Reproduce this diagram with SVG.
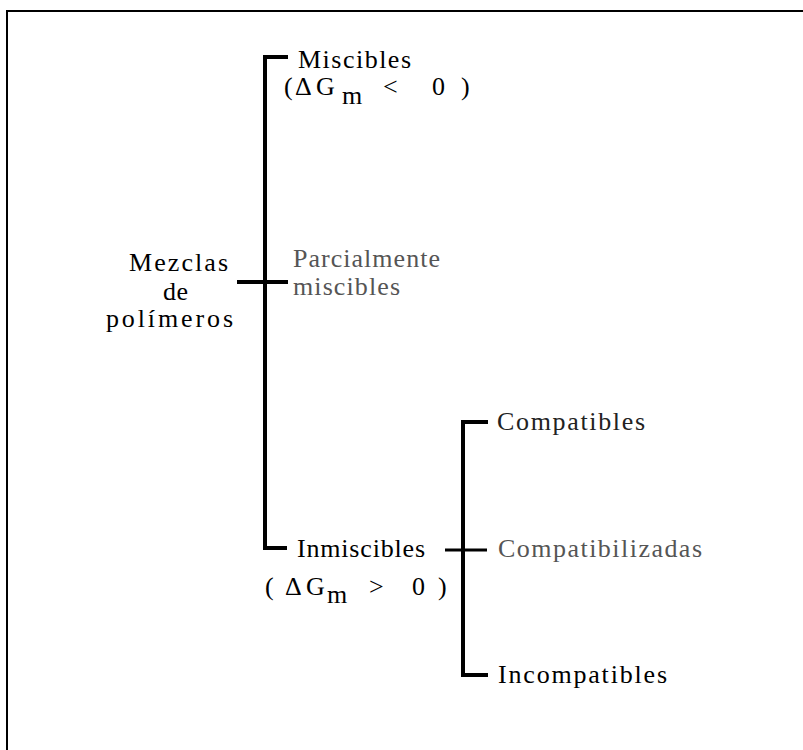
<svg xmlns="http://www.w3.org/2000/svg" width="803" height="750" viewBox="0 0 803 750">
<style>
text{font-family:"Liberation Serif","Times New Roman",serif;font-size:26px;fill:#000}
.dim{fill:#555}
.mid{fill:#222}
.ln{stroke:#000;fill:none;stroke-linecap:butt;stroke-linejoin:miter}
</style>
<rect width="803" height="750" fill="#fff"/>
<g id="frame">
<line class="ln" x1="7" y1="11" x2="803" y2="11" stroke-width="2"/>
<line class="ln" x1="7" y1="10" x2="7" y2="750" stroke-width="2"/>
</g>
<g id="connectors">
<polyline class="ln" points="288,57 265,57 265,548 287,548" stroke-width="4"/>
<line class="ln" x1="237" y1="282" x2="288" y2="282" stroke-width="4"/>
<polyline class="ln" points="488,422 463,422 463,675 488,675" stroke-width="4"/>
<line class="ln" x1="445" y1="550" x2="487" y2="550" stroke-width="3"/>
</g>
<g id="root">
<text x="129" y="271" textLength="99" lengthAdjust="spacing">Mezclas</text>
<text x="163" y="300" textLength="25" lengthAdjust="spacing">de</text>
<text x="106" y="327" textLength="127" lengthAdjust="spacing">polímeros</text>
</g>
<g id="miscibles">
<text x="298" y="68" textLength="113" lengthAdjust="spacing">Miscibles</text>
<text y="95"><tspan x="284">(</tspan><tspan x="295">Δ</tspan><tspan x="316">G</tspan><tspan x="342" y="104">m</tspan><tspan x="383" y="95">&lt;</tspan><tspan x="432">0</tspan><tspan x="461">)</tspan></text>
</g>
<g id="parcialmente">
<text class="dim" x="293" y="267" textLength="147" lengthAdjust="spacing">Parcialmente</text>
<text class="dim" x="293" y="295" textLength="107" lengthAdjust="spacing">miscibles</text>
</g>
<g id="inmiscibles">
<text x="297" y="557" textLength="128" lengthAdjust="spacing">Inmiscibles</text>
<text y="595"><tspan x="265">(</tspan><tspan x="285">Δ</tspan><tspan x="306">G</tspan><tspan x="327" y="603">m</tspan><tspan x="369" y="595">&gt;</tspan><tspan x="412">0</tspan><tspan x="438">)</tspan></text>
</g>
<g id="compatibles">
<text class="mid" x="497" y="430" textLength="148" lengthAdjust="spacing">Compatibles</text>
</g>
<g id="compatibilizadas">
<text class="dim" x="498" y="557" textLength="204" lengthAdjust="spacing">Compatibilizadas</text>
</g>
<g id="incompatibles">
<text x="498" y="683" textLength="169" lengthAdjust="spacing">Incompatibles</text>
</g>
</svg>
